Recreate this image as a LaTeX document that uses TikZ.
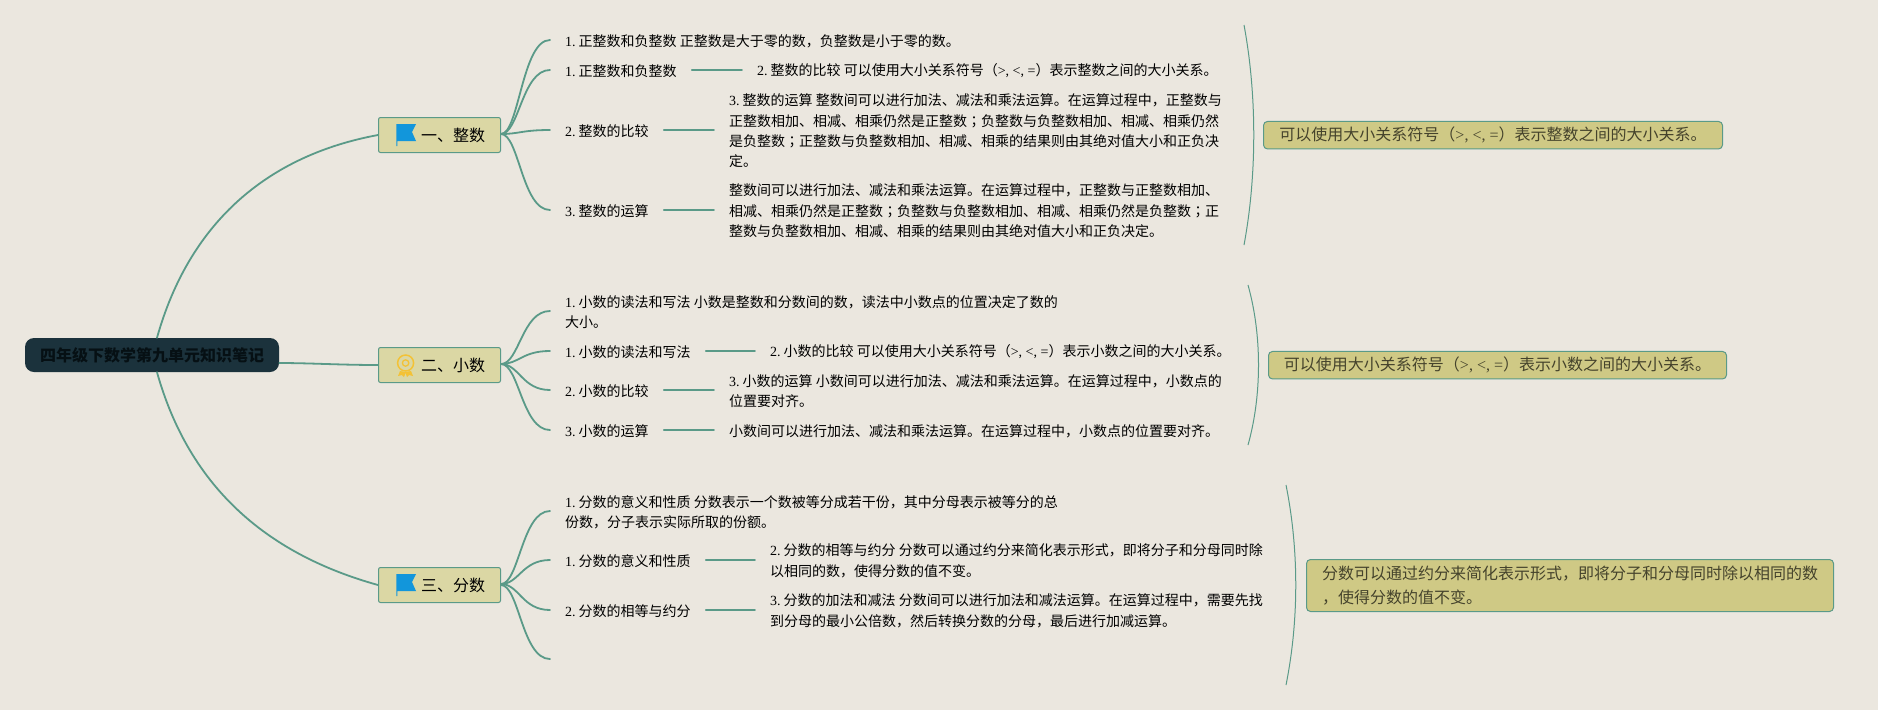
\documentclass[tikz,border=0pt]{standalone}
\usepackage{fontspec}
\setmainfont{Noto Sans CJK SC}
\newfontfamily\latn{Liberation Serif}
\newfontfamily\tcf{Noto Sans CJK TC}
\newcommand{\lt}[1]{{\latn #1}}
\newcommand{\nm}[1]{{\latn #1.}\kern3pt\relax}
\newcommand{\semi}{{\tcf ；}}
\usetikzlibrary{calc}
\definecolor{bgc}{HTML}{EBE7DF}
\definecolor{linkc}{HTML}{5A9A88}
\definecolor{rootc}{HTML}{1B323C}
\definecolor{roott}{HTML}{061014}
\definecolor{topicc}{HTML}{DBD7A4}
\definecolor{sumc}{HTML}{CFC985}
\definecolor{sumt}{HTML}{45432C}
\definecolor{flagc}{HTML}{1296DB}
\definecolor{medalc}{HTML}{F3C236}
\tikzset{
  link/.style={draw=linkc,line width=1.8pt,line cap=round},
  uplink/.style={link,transform canvas={yshift=1pt}},
  bracketline/.style={draw=linkc,line width=1pt},
  rootnode/.style={fill=rootc,rounded corners=9pt,minimum width=254pt,minimum height=34pt,inner sep=0pt,text=roott,font=\fontsize{16}{18}\selectfont\bfseries},
  topicnode/.style={fill=topicc,draw=linkc,line width=1pt,rounded corners=2pt,minimum width=122pt,minimum height=35pt,inner sep=0pt,text=black,font=\fontsize{16}{18}\selectfont},
  txt/.style={anchor=west,yshift=-1pt,inner xsep=15pt,inner ysep=0pt,align=left,text=black,font=\fontsize{14}{20.4}\selectfont},
  sumnode/.style={anchor=west,fill=sumc,draw=linkc,line width=1pt,rounded corners=4pt,inner sep=0pt,align=left,text=sumt,font=\fontsize{16}{24}\selectfont},
}
\newcommand{\flagicon}[1]{%
  \fill[flagc,shift={(#1.west)}] (18.3,-11) -- (38,-11) -- (34,-3) -- (38,6) -- (19.3,6) -- (19.3,11) -- (18.3,11) -- cycle;}
\newcommand{\medalicon}[1]{%
  \begin{scope}[shift={(#1.west)}]
    \fill[medalc] (22,6) -- (20,11) -- (24,10) -- (26,12) -- (28,7) -- cycle;
    \fill[medalc] (33,6) -- (35,11) -- (31,10) -- (29,12) -- (27,7) -- cycle;
    \draw[medalc,line width=1.5pt,fill=topicc] (27.6,-2) circle (8);
    \draw[medalc,line width=1.3pt] (27.6,-2) circle (3.2);
  \end{scope}}
\begin{document}
\begin{tikzpicture}[x=1pt,y=-1pt]
\useasboundingbox (0,0) rectangle (1878,710);
\fill[bgc] (0,0) rectangle (1878,710);

% central and main topics
\node[rootnode] (root) at (152,355) {四年级下数学第九单元知识笔记};
\node[topicnode] (t1) at (439.5,135) {\hspace*{27pt}一、整数};
\node[topicnode] (t2) at (439.5,365) {\hspace*{27pt}二、小数};
\node[topicnode] (t3) at (439.5,585) {\hspace*{27pt}三、分数};
\flagicon{t1}
\medalicon{t2}
\flagicon{t3}

% branch 1 texts
\node[txt] (a1) at (550,40) {\nm{1}正整数和负整数 正整数是大于零的数，负整数是小于零的数。};
\node[txt] (a2) at (550,70) {\nm{1}正整数和负整数};
\node[txt] (a2d) at (742,70) {\nm{2}整数的比较 可以使用大小关系符号（\lt{>, <, =}）表示整数之间的大小关系。};
\node[txt] (a3) at (550,130) {\nm{2}整数的比较};
\node[txt] (a3d) at (714,130) {\nm{3}整数的运算 整数间可以进行加法、减法和乘法运算。在运算过程中，正整数与\\正整数相加、相减、相乘仍然是正整数\semi 负整数与负整数相加、相减、相乘仍然\\是负整数\semi 正整数与负整数相加、相减、相乘的结果则由其绝对值大小和正负决\\定。};
\node[txt] (a4) at (550,210) {\nm{3}整数的运算};
\node[txt] (a4d) at (714,210) {整数间可以进行加法、减法和乘法运算。在运算过程中，正整数与正整数相加、\\相减、相乘仍然是正整数\semi 负整数与负整数相加、相减、相乘仍然是负整数\semi 正\\整数与负整数相加、相减、相乘的结果则由其绝对值大小和正负决定。};

% branch 2 texts
\node[txt] (b1) at (550,311) {\nm{1}小数的读法和写法 小数是整数和分数间的数，读法中小数点的位置决定了数的\\大小。};
\node[txt] (b2) at (550,351) {\nm{1}小数的读法和写法};
\node[txt] (b2d) at (755,351) {\nm{2}小数的比较 可以使用大小关系符号（\lt{>, <, =}）表示小数之间的大小关系。};
\node[txt] (b3) at (550,390) {\nm{2}小数的比较};
\node[txt] (b3d) at (714,390) {\nm{3}小数的运算 小数间可以进行加法、减法和乘法运算。在运算过程中，小数点的\\位置要对齐。};
\node[txt] (b4) at (550,430) {\nm{3}小数的运算};
\node[txt] (b4d) at (714,430) {小数间可以进行加法、减法和乘法运算。在运算过程中，小数点的位置要对齐。};

% branch 3 texts
\node[txt] (c1) at (550,511) {\nm{1}分数的意义和性质 分数表示一个数被等分成若干份，其中分母表示被等分的总\\份数，分子表示实际所取的份额。};
\node[txt] (c2) at (550,560) {\nm{1}分数的意义和性质};
\node[txt] (c2d) at (755,560) {\nm{2}分数的相等与约分 分数可以通过约分来简化表示形式，即将分子和分母同时除\\以相同的数，使得分数的值不变。};
\node[txt] (c3) at (550,610) {\nm{2}分数的相等与约分};
\node[txt] (c3d) at (755,610) {\nm{3}分数的加法和减法 分数间可以进行加法和减法运算。在运算过程中，需要先找\\到分母的最小公倍数，然后转换分数的分母，最后进行加减运算。};
\coordinate (c4) at (550,659);

% summaries
\node[sumnode,minimum width=459pt,minimum height=27.5pt] (s1) at (1263,135.2) {可以使用大小关系符号（\lt{>, <, =}）表示整数之间的大小关系。};
\node[sumnode,minimum width=458pt,minimum height=27.5pt] (s2) at (1268,365.2) {可以使用大小关系符号（\lt{>, <, =}）表示小数之间的大小关系。};
\node[sumnode,minimum width=527pt,minimum height=52pt] (s3) at (1306,585.5) {分数可以通过约分来简化表示形式，即将分子和分母同时除以相同的数\\，使得分数的值不变。};

% bracket ends
\coordinate (k1a) at (1244,25);
\coordinate (k1b) at (1244,245);
\coordinate (k2a) at (1248,285);
\coordinate (k2b) at (1248,445);
\coordinate (k3a) at (1286,485);
\coordinate (k3b) at (1286,685);

% root connectors
\draw[link] ($(root.north)+(5,0)$) .. controls (190,220) and (270,155) .. (t1.west);
\draw[link] ($(root.east)+(0,8)$) .. controls (310,363) and (340,365) .. (t2.west);
\draw[link] ($(root.south)+(5,0)$) .. controls (190,490) and (270,555) .. (t3.west);

% fans
\foreach \s/\e in {t1/a1,t1/a2,t1/a3,t1/a4,t2/b1,t2/b2,t2/b3,t2/b4,t3/c1,t3/c2,t3/c3}
  \draw[uplink] (\s.east) .. controls +(18,0) and +(-28,0) .. (\e.west);
\draw[link] (t3.east) .. controls +(18,0) and +(-28,0) .. (c4);

% detail connectors
\foreach \p/\q in {a2/a2d,a3/a3d,a4/a4d,b2/b2d,b3/b3d,b4/b4d,c2/c2d,c3/c3d}
  \draw[uplink] (\p.east) -- (\q.west);

% brackets
\draw[bracketline] (k1a) .. controls (1257,95) and (1257,175) .. (k1b);
\draw[bracketline] (k2a) .. controls (1262,335) and (1262,395) .. (k2b);
\draw[bracketline] (k3a) .. controls (1299,550) and (1299,620) .. (k3b);
\end{tikzpicture}
\end{document}
